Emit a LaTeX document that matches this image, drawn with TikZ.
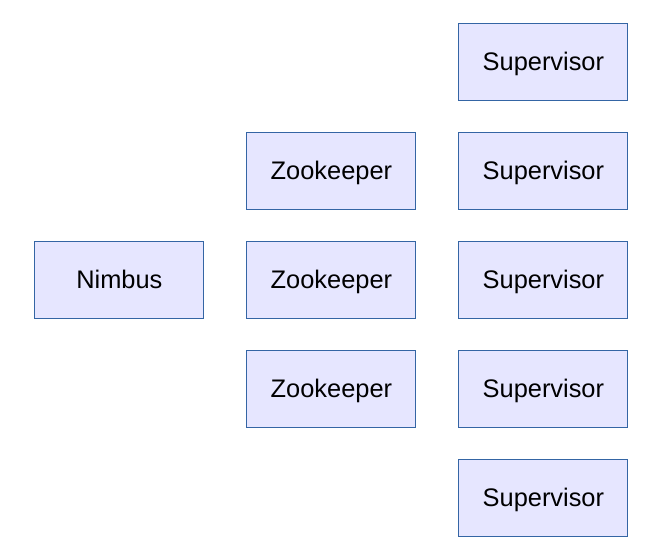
\documentclass[tikz,border=0pt]{standalone}
\usepackage{fontspec}
\setmainfont{Liberation Sans}
\usetikzlibrary{matrix}
\definecolor{boxfill}{HTML}{E6E6FF}
\definecolor{boxline}{HTML}{3465A4}
\begin{document}
\begin{tikzpicture}
\useasboundingbox (0,0) rectangle (324.5pt,-277.5pt);
\matrix (m) [matrix of nodes, anchor=north west, inner sep=0pt, nodes={rectangle, draw=boxline, fill=boxfill, line width=.5pt, outer sep=0pt, minimum width=84.5pt, minimum height=38.5pt, text height=10.2pt, text depth=1.6pt, font=\fontsize{12.7}{15}\selectfont}, column sep = 21pt, row sep = 15.5pt] at (17pt,-11.5pt) {
& & Supervisor\\
& Zookeeper & Supervisor\\
Nimbus & Zookeeper & Supervisor\\
& Zookeeper & Supervisor\\
& & Supervisor\\
};
\end{tikzpicture}
\end{document}
